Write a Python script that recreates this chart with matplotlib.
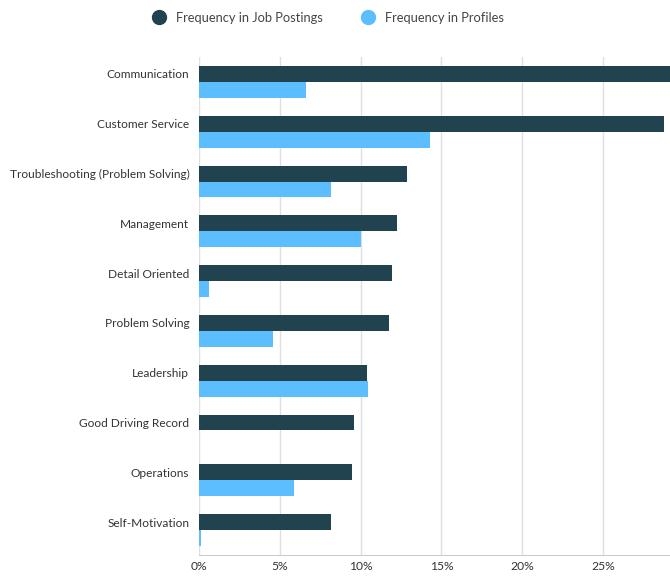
import numpy as np
import matplotlib.pyplot as plt
from matplotlib.lines import Line2D

plt.rcParams['font.family'] = ['Lato', 'DejaVu Sans']

# data
skills = ["Communication", "Customer Service", "Troubleshooting (Problem Solving)",
          "Management", "Detail Oriented", "Problem Solving", "Leadership",
          "Good Driving Record", "Operations", "Self-Motivation"]
job_postings = [30.0, 28.8, 12.9, 12.25, 11.95, 11.75, 10.4, 9.6, 9.5, 8.2]
profiles = [6.6, 14.3, 8.2, 10.0, 0.6, 4.6, 10.45, 0.0, 5.9, 0.15]
xticks = [0, 5, 10, 15, 20, 25]

dark = "#21424f"
light = "#5cbdff"

fig = plt.figure(figsize=(6.7, 5.76), dpi=100)
ax = fig.add_axes([0.297, 0.0365, 0.703, 0.8645])

y = np.arange(len(skills))
h = 0.32
ax.barh(y - h / 2, job_postings, height=h, color=dark, zorder=3)
ax.barh(y + h / 2, profiles, height=h, color=light, zorder=3)

ax.set_ylim(len(skills) - 0.5, -0.5)
ax.set_xlim(0, 29.15)
# labels sit level with the job-postings bar
ax.set_yticks(y - h / 2)
ax.set_yticklabels(skills, fontsize=8.6, color="#333333")
ax.set_xticks(xticks)
ax.set_xticklabels([f"{t}%" for t in xticks], fontsize=8.7, color="#333333")
ax.tick_params(axis="both", length=0)
ax.tick_params(axis="y", pad=7)
ax.tick_params(axis="x", pad=4)

ax.grid(axis="x", color="#e0e0e0", linewidth=1, zorder=0)
for s in ["top", "right", "left"]:
    ax.spines[s].set_visible(False)
ax.spines["bottom"].set_color("#cccccc")

handles = [Line2D([], [], marker="o", linestyle="", markersize=10, color=dark),
           Line2D([], [], marker="o", linestyle="", markersize=10, color=light)]
fig.legend(handles, ["Frequency in Job Postings", "Frequency in Profiles"],
           loc="upper center", bbox_to_anchor=(0.485, 1.0), ncol=2, frameon=False,
           fontsize=9.3, labelcolor="#444444", handletextpad=0.3, columnspacing=2.5)

fig.savefig("out.png", dpi=100)
